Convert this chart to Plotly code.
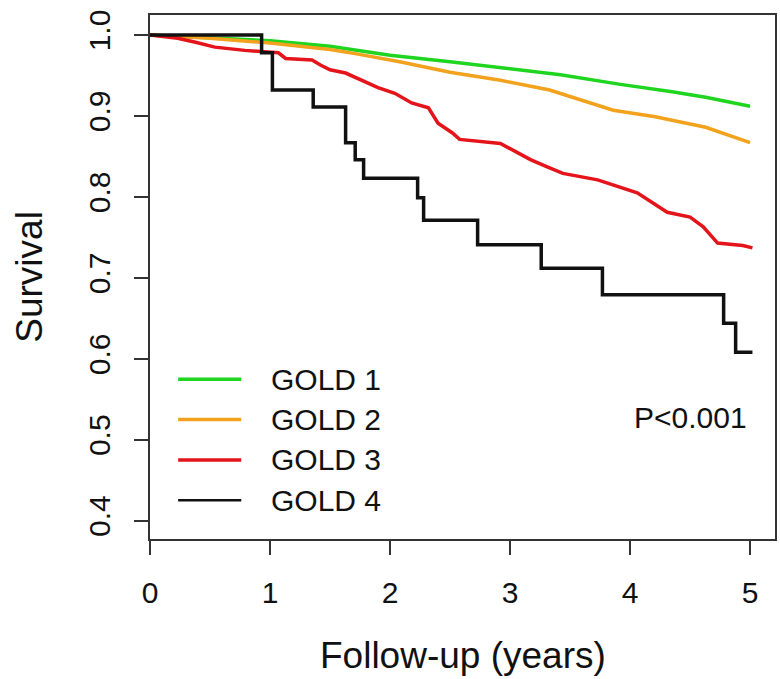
import plotly.graph_objects as go

# Kaplan-Meier survival by GOLD stage (follow-up in years)
years_g1 = [0, 0.5, 1.0, 1.5, 1.71, 2.0, 2.5, 2.92, 3.42, 3.92, 4.35, 4.63, 5.0]
surv_g1 = [1.0, 0.997, 0.993, 0.986, 0.981, 0.975, 0.967, 0.960, 0.951, 0.939, 0.930, 0.923, 0.912]

years_g2 = [0, 0.5, 1.0, 1.5, 1.71, 2.08, 2.5, 2.92, 3.33, 3.58, 3.86, 4.21, 4.63, 5.0]
surv_g2 = [1.0, 0.996, 0.990, 0.982, 0.977, 0.967, 0.954, 0.944, 0.932, 0.920, 0.907, 0.899, 0.886, 0.867]

years_g3 = [0, 0.23, 0.38, 0.54, 0.79, 1.07, 1.13, 1.35, 1.42, 1.5, 1.63, 1.77, 1.9,
            2.04, 2.18, 2.32, 2.4, 2.52, 2.58, 2.92, 3.17, 3.31, 3.44, 3.73, 4.06,
            4.31, 4.5, 4.61, 4.73, 4.94, 5.02]
surv_g3 = [1.0, 0.996, 0.991, 0.985, 0.981, 0.978, 0.971, 0.969, 0.963, 0.957, 0.953, 0.944, 0.935,
           0.928, 0.916, 0.910, 0.891, 0.879, 0.871, 0.866, 0.846, 0.837, 0.829, 0.821, 0.805,
           0.781, 0.775, 0.763, 0.743, 0.740, 0.737]

years_g4 = [0, 0.93, 1.02, 1.36, 1.63, 1.71, 1.78, 2.23, 2.28, 2.73, 3.26, 3.77, 4.78, 4.88, 5.02]
surv_g4 = [1.0, 0.978, 0.932, 0.911, 0.867, 0.846, 0.823, 0.799, 0.771, 0.741, 0.712, 0.679, 0.644, 0.608, 0.608]

labels = ["GOLD 1", "GOLD 2", "GOLD 3", "GOLD 4"]
colors = ["#1fd51f", "#f2a21c", "#e4141a", "#111111"]
shapes_kind = ["linear", "linear", "linear", "hv"]
x_ticks = [0, 1, 2, 3, 4, 5]
y_ticks = [0.4, 0.5, 0.6, 0.7, 0.8, 0.9, 1.0]
p_text = "P<0.001"

FONT = "Liberation Sans, Arial, sans-serif"

fig = go.Figure()
for name, xs, ys, col, kind in zip(labels,
                                  [years_g1, years_g2, years_g3, years_g4],
                                  [surv_g1, surv_g2, surv_g3, surv_g4],
                                  colors, shapes_kind):
    fig.add_trace(go.Scatter(x=xs, y=ys, mode="lines", name=name,
                             line=dict(color=col, width=3.5, shape=kind),
                             showlegend=False))

# hand-placed legend in the lower-left corner of the panel
leg_top = 0.305
leg_step = 0.077
shapes = []
annotations = []
for i, (name, col) in enumerate(zip(labels, colors)):
    yy = leg_top - i * leg_step
    shapes.append(dict(type="line", xref="paper", yref="paper",
                       x0=0.045, x1=0.146, y0=yy, y1=yy,
                       line=dict(color=col, width=3.5 if i < 3 else 2.5)))
    annotations.append(dict(text=name, xref="paper", yref="paper", x=0.19, y=yy,
                            xanchor="left", yanchor="middle", showarrow=False,
                            font=dict(size=30, color="#111", family=FONT)))

annotations.append(dict(text=p_text, xref="paper", yref="paper", x=0.958, y=0.231,
                        xanchor="right", yanchor="middle", showarrow=False,
                        font=dict(size=30, color="#111", family=FONT)))
annotations.append(dict(text="Survival", xref="paper", yref="paper", x=-0.194, y=0.5,
                        xanchor="center", yanchor="middle", textangle=-90, showarrow=False,
                        font=dict(size=37, color="#111", family=FONT)))
annotations.append(dict(text="Follow-up (years)", xref="paper", yref="paper", x=0.5, y=-0.222,
                        xanchor="center", yanchor="middle", showarrow=False,
                        font=dict(size=37, color="#111", family=FONT)))

axis_common = dict(showgrid=False, zeroline=False, showline=True, mirror=True,
                   linecolor="#333", linewidth=2, ticks="outside", ticklen=14,
                   tickwidth=2, tickcolor="#333",
                   tickfont=dict(size=30, color="#111", family=FONT))

fig.update_xaxes(range=[0, 5.208], tickvals=x_ticks, ticktext=[str(v) for v in x_ticks],
                 ticklabelstandoff=12, **axis_common)
fig.update_yaxes(range=[0.3774, 1.0247], tickvals=y_ticks,
                 ticktext=[f"{v:.1f}" for v in y_ticks], tickangle=-90,
                 ticklabelstandoff=12, **axis_common)

fig.update_layout(width=780, height=679,
                  margin=dict(l=150, r=5, t=15, b=140, autoexpand=False),
                  plot_bgcolor="white", paper_bgcolor="white",
                  shapes=shapes, annotations=annotations,
                  font=dict(family=FONT))

fig.write_html("out.html")
